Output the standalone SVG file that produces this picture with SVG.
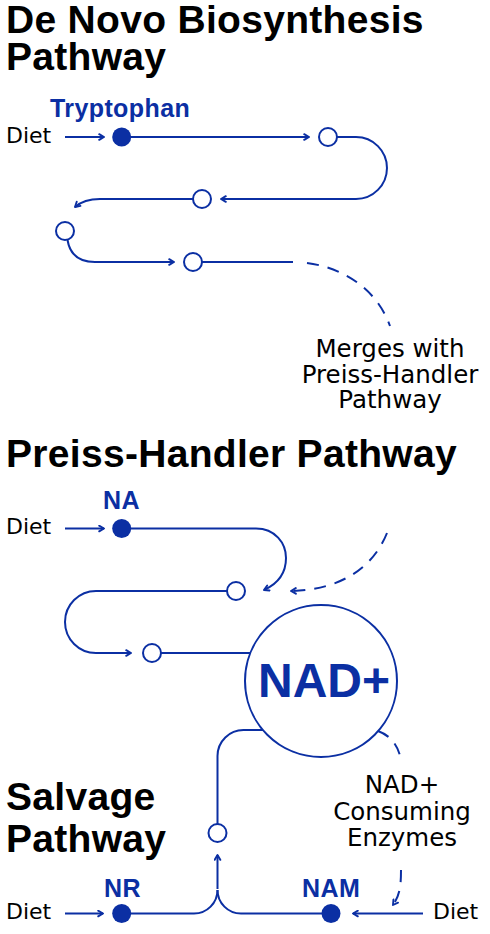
<svg xmlns="http://www.w3.org/2000/svg" width="490" height="934" viewBox="0 0 490 934">
<style>
.title{font-family:"Liberation Sans",Arial,sans-serif;font-weight:bold;font-size:39px;fill:#000;letter-spacing:0.3px}
.lbl{font-family:"Liberation Sans",Arial,sans-serif;font-weight:bold;font-size:25px;fill:#0b2fa3;letter-spacing:0.4px}
.diet{font-family:"DejaVu Sans",sans-serif;font-size:22px;fill:#000}
.note{font-family:"DejaVu Sans",sans-serif;font-size:24.5px;fill:#000;text-anchor:middle}
.big{font-family:"Liberation Sans",Arial,sans-serif;font-weight:bold;font-size:48px;fill:#0b2fa3;text-anchor:middle}
.ln{fill:none;stroke:#0b2fa3;stroke-width:2}
.dash{fill:none;stroke:#0b2fa3;stroke-width:2;stroke-dasharray:12 9}
.open{fill:#fff;stroke:#0b2fa3;stroke-width:2}
.fill{fill:#0b2fa3}
</style>
<defs>
<marker id="arr" viewBox="0 0 10 10" refX="9" refY="5" markerWidth="8" markerHeight="8" markerUnits="userSpaceOnUse" orient="auto">
<path d="M3,1.5 L9,5 L3,8.5" fill="none" stroke="#0b2fa3" stroke-width="2.4" stroke-linecap="round" stroke-linejoin="round"/>
</marker>
</defs>
<rect width="490" height="934" fill="#fff"/>

<g id="titles">
<text class="title" x="6" y="33">De Novo Biosynthesis</text>
<text class="title" x="6" y="70">Pathway</text>
<text class="title" x="6" y="467">Preiss-Handler Pathway</text>
<text class="title" x="6" y="810">Salvage</text>
<text class="title" x="6" y="852">Pathway</text>
</g>

<g id="connectors">
<!-- De Novo -->
<path class="ln" d="M65,137 H104" marker-end="url(#arr)"/>
<path class="ln" d="M122,137 H309" marker-end="url(#arr)"/>
<path class="ln" d="M337,137 H356 A31,31 0 0 1 356,199 H221" marker-end="url(#arr)"/>
<path class="ln" d="M193,199 H100 Q84,199 75,207" marker-end="url(#arr)"/>
<path class="ln" d="M67.5,240 C70,255 80,262 95,262 H174" marker-end="url(#arr)"/>
<path class="ln" d="M202,262 H293"/>
<path class="dash" d="M307,263 C345,268 377,290 390,326"/>
<!-- Preiss-Handler -->
<path class="ln" d="M65,528.5 H104" marker-end="url(#arr)"/>
<path class="ln" d="M122,528.5 H256 C275,528.5 286,543 286,558 Q286,580 264,590" marker-end="url(#arr)"/>
<path class="ln" d="M227,591 H96 A31,31 0 0 0 96,653 H131" marker-end="url(#arr)"/>
<path class="ln" d="M161,653 H250"/>
<path class="dash" d="M387,533 C373,568 340,590 291,591" marker-end="url(#arr)"/>
<!-- Salvage -->
<path class="ln" d="M263,730 H244 A26,26 0 0 0 217.5,756 V824"/>
<path class="ln" d="M217.5,889 V855" marker-end="url(#arr)"/>
<path class="ln" d="M122,913.5 H194 A23.5,23.5 0 0 0 217.5,890"/>
<path class="ln" d="M331,913.5 H241 A23.5,23.5 0 0 1 217.5,890"/>
<path class="ln" d="M65,913.5 H103" marker-end="url(#arr)"/>
<path class="ln" d="M423,913.5 H353" marker-end="url(#arr)"/>
<path class="dash" d="M378,731 Q397,738 401,760"/>
<path class="dash" d="M401,870 C401,885 400,895 393,905" marker-end="url(#arr)"/>
</g>

<g id="node-diet-1"><text class="diet" x="6" y="143">Diet</text></g>
<g id="node-tryptophan"><circle class="fill" cx="121.7" cy="137" r="9.5"/><text class="lbl" x="50" y="117">Tryptophan</text></g>
<g id="node-dn1"><circle class="open" cx="328" cy="137" r="9"/></g>
<g id="node-dn2"><circle class="open" cx="202" cy="199" r="9"/></g>
<g id="node-dn3"><circle class="open" cx="65" cy="231" r="9"/></g>
<g id="node-dn4"><circle class="open" cx="193" cy="262" r="9"/></g>
<g id="node-merges">
<text class="note" x="390" y="357">Merges with</text>
<text class="note" x="390" y="383">Preiss-Handler</text>
<text class="note" x="390" y="408">Pathway</text>
</g>

<g id="node-diet-2"><text class="diet" x="6" y="534">Diet</text></g>
<g id="node-na"><circle class="fill" cx="121.7" cy="528.5" r="9.5"/><text class="lbl" x="103" y="509">NA</text></g>
<g id="node-ph1"><circle class="open" cx="236" cy="591" r="9"/></g>
<g id="node-ph2"><circle class="open" cx="152" cy="653" r="9"/></g>
<g id="node-nad"><circle class="open" cx="321" cy="681" r="76"/><text class="big" x="324" y="697">NAD+</text></g>

<g id="node-sv1"><circle class="open" cx="217.5" cy="833" r="9"/></g>
<g id="node-enzymes">
<text class="note" x="402" y="793">NAD+</text>
<text class="note" x="402" y="820">Consuming</text>
<text class="note" x="402" y="846">Enzymes</text>
</g>
<g id="node-diet-3"><text class="diet" x="6" y="919">Diet</text></g>
<g id="node-nr"><circle class="fill" cx="121.7" cy="913.5" r="9.5"/><text class="lbl" x="104" y="897">NR</text></g>
<g id="node-nam"><circle class="fill" cx="331" cy="913.5" r="9.5"/><text class="lbl" x="302" y="897">NAM</text></g>
<g id="node-diet-4"><text class="diet" x="433" y="919">Diet</text></g>
</svg>
